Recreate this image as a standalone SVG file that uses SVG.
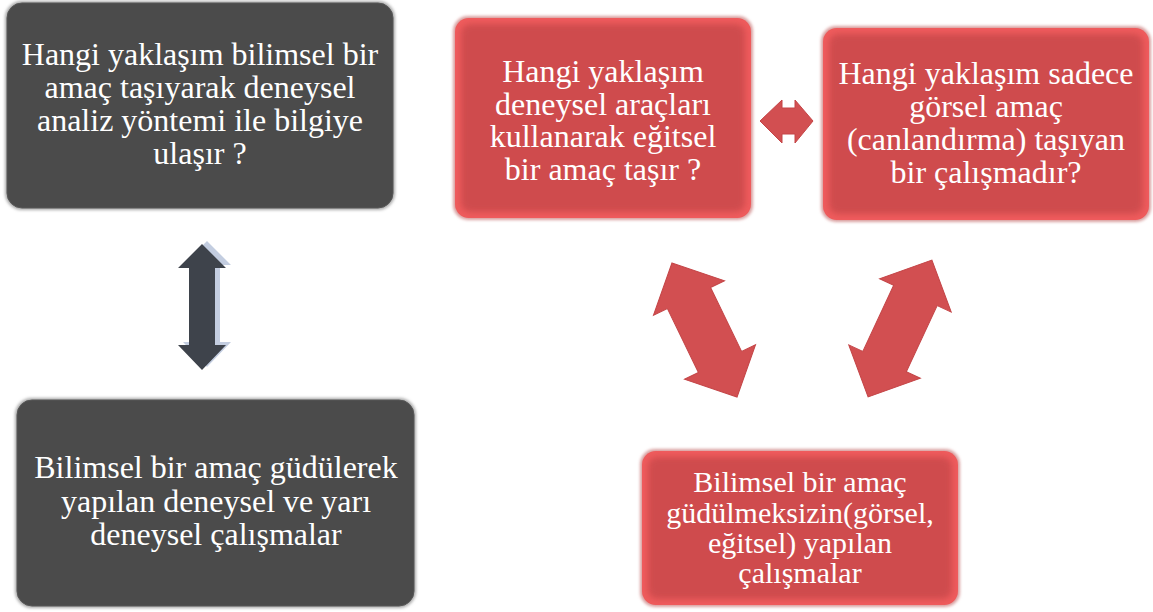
<svg xmlns="http://www.w3.org/2000/svg" width="1153" height="612" viewBox="0 0 1153 612">
<defs>
<filter id="halo" x="-10%" y="-10%" width="120%" height="120%"><feGaussianBlur stdDeviation="1.6"/></filter>
<filter id="bevel" x="-10%" y="-10%" width="120%" height="120%"><feGaussianBlur stdDeviation="3"/></filter>
<style>
.t{fill:#ffffff;text-anchor:middle;font-size:32px}
.tc{font-size:30px}
.dhalo{fill:#a9a9a9}
.dbox{fill:#4b4b4b;stroke:#585858;stroke-width:1}
.rhalo{fill:#d9a0a0}
.rout{fill:#ef5b5c}
.rin{fill:#cf4c4e}
.rarr{fill:#d24f51;stroke:#c44547;stroke-width:1}
.darr{fill:#3e434b}
.darrhl{fill:#c3cde0}
</style>
</defs>

<g id="connectors">
  <g id="arrow-dark">
    <polygon class="darrhl" points="207,241 231,265 220,265 220,342 231,342 207,367 183,342 194,342 194,265 183,265"/>
    <polygon class="darr" points="202,244 226,268 215,268 215,345 226,345 202,370 178,345 189,345 189,268 178,268"/>
  </g>
  <polygon id="arrow-ab" class="rarr" points="760,121 782,100 782,108 795,108 795,100 813,121 795,143 795,134 782,134 782,143"/>
  <polygon id="arrow-ac" class="rarr" transform="translate(704.5,330) rotate(64.1)" points="-74.5,0 -35.5,-39.5 -35.5,-24 35.5,-24 35.5,-39.5 74.5,0 35.5,39.5 35.5,24 -35.5,24 -35.5,39.5"/>
  <polygon id="arrow-bc" class="rarr" transform="translate(900,328.5) rotate(-65)" points="-75.5,0 -36.5,-39.5 -36.5,-24 36.5,-24 36.5,-39.5 75.5,0 36.5,39.5 36.5,24 -36.5,24 -36.5,39.5"/>
</g>

<g font-family="'Liberation Serif', 'DejaVu Serif', serif">
<g id="node-q1">
  <rect class="dhalo" x="5" y="1" width="390" height="209" rx="17" filter="url(#halo)"/>
  <rect class="dbox" x="7" y="3" width="386" height="205" rx="15"/>
  <text class="t" x="200" y="65">Hangi yaklaşım bilimsel bir</text>
  <text class="t" x="200" y="98">amaç taşıyarak deneysel</text>
  <text class="t" x="200" y="131">analiz yöntemi ile bilgiye</text>
  <text class="t" x="200" y="164">ulaşır ?</text>
</g>

<g id="node-a1">
  <rect class="dhalo" x="15" y="398" width="401" height="210" rx="17" filter="url(#halo)"/>
  <rect class="dbox" x="17" y="400" width="397" height="206" rx="15"/>
  <text class="t" x="216" y="478">Bilimsel bir amaç güdülerek</text>
  <text class="t" x="216" y="511.5">yapılan deneysel ve yarı</text>
  <text class="t" x="216" y="545">deneysel çalışmalar</text>
</g>

<g id="node-q2">
  <rect class="rhalo" x="453" y="16" width="300" height="204" rx="15" filter="url(#halo)"/>
  <rect class="rout" x="455" y="18" width="296" height="200" rx="14"/>
  <rect class="rin" x="461" y="24" width="284" height="188" rx="9" filter="url(#bevel)"/>
  <text class="t" x="603" y="82">Hangi yaklaşım</text>
  <text class="t" x="603" y="114.5">deneysel araçları</text>
  <text class="t" x="603" y="147">kullanarak eğitsel</text>
  <text class="t" x="603" y="179.5">bir amaç taşır ?</text>
</g>

<g id="node-q3">
  <rect class="rhalo" x="821" y="26" width="330" height="196" rx="15" filter="url(#halo)"/>
  <rect class="rout" x="823" y="28" width="326" height="192" rx="14"/>
  <rect class="rin" x="829" y="34" width="314" height="180" rx="9" filter="url(#bevel)"/>
  <text class="t" x="986" y="84">Hangi yaklaşım sadece</text>
  <text class="t" x="986" y="117">görsel amaç</text>
  <text class="t" x="986" y="150">(canlandırma) taşıyan</text>
  <text class="t" x="986" y="183">bir çalışmadır?</text>
</g>

<g id="node-a2">
  <rect class="rhalo" x="640" y="449" width="320" height="158" rx="15" filter="url(#halo)"/>
  <rect class="rout" x="642" y="451" width="316" height="154" rx="14"/>
  <rect class="rin" x="648" y="457" width="304" height="142" rx="9" filter="url(#bevel)"/>
  <text class="t tc" x="800" y="492">Bilimsel bir amaç</text>
  <text class="t tc" x="800" y="522.5">güdülmeksizin(görsel,</text>
  <text class="t tc" x="800" y="553">eğitsel) yapılan</text>
  <text class="t tc" x="800" y="583">çalışmalar</text>
</g>
</g>
</svg>
